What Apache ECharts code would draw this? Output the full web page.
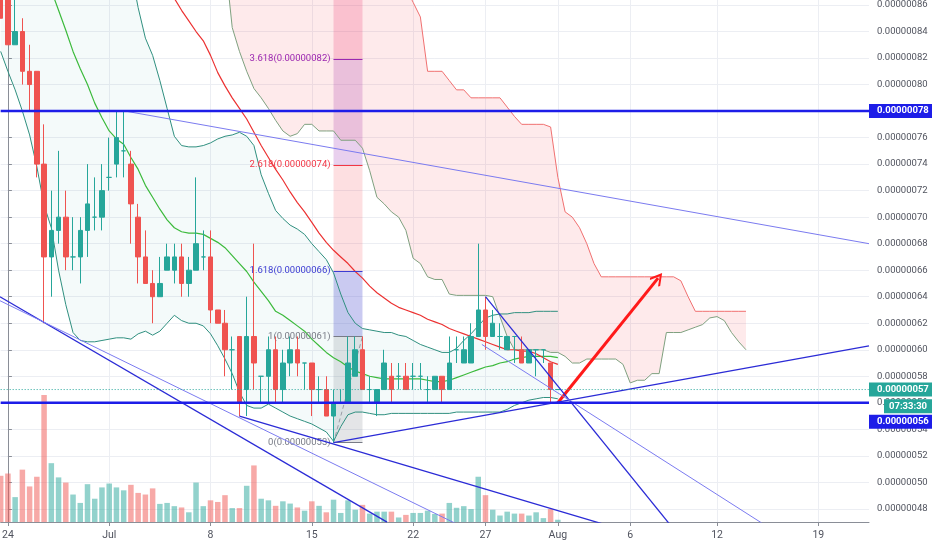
<!DOCTYPE html>
<html><head><meta charset="utf-8">
<script src="https://cdn.jsdelivr.net/npm/echarts@6/dist/echarts.min.js"></script>
<style>html,body{margin:0;padding:0;background:#fff}#c{width:932px;height:550px}</style>
</head><body><div id="c"></div>
<script>
// ---------- DATA (prices in satoshi = 1e-8 BTC, 12h candles) ----------
// slot index j: 0 = 2019-06-24 00:00, step 12h; arrays below start at j = -1
const openP  = [88,87,83,84,81,81,74,67,69,70,67,67,69,70,70,73,74,75,74,70,67,65,64,66,66,67,65,66,67,67,63,62,60,61,57,61,58,58,60,57,59,60,59,59,57,57,55,56,56,58,60,57,56,57,58,58,58,58,58,57,57,58,57,60,59,59,61,63,61,61,60,61,60,59,60,60,59,57];
const closeP = [85,83,84,81,80,74,67,69,70,67,67,69,71,70,72,73,76,75,71,67,65,64,65,67,67,65,66,68,67,63,62,60,60,56,61,59,58,60,57,59,60,59,59,57,57,55,56,56,59,60,57,57,57,59,57,58,57,58,58,57,58,57,59,60,60,61,63,61,62,61,61,61,59,60,60,60,57,57];
const lowP   = [85,83,83,80,78,73,62,64,68,66,66,65,67,69,69,72,73,73,68,65,65,62,64,66,65,64,64,66,66,62,62,58,57,55,55,57,56,56,56,56,58,58,57,55,56,55,53,56,56,58,57,56,55,57,56,57,57,57,57,56,57,56,57,59,59,59,61,60,61,60,60,59,59,59,58,59,56,57];
const highP  = [89,88,87,85,83,81,77,72,75,72,70,70,74,73,74,76,78,78,75,71,69,66,67,68,68,68,67,73,69,69,63,63,61,61,64,68,58,61,61,60,61,61,59,59,58,58,57,57,61,61,61,58,57,60,59,59,59,59,59,58,58,58,61,61,61,62,68,64,63,62,61,61,61,60,60,60,59,57];
const volume = [143,150,77,162,110,140,393,182,138,122,85,59,117,72,107,119,107,98,115,90,85,104,56,59,49,45,30,122,49,67,62,83,43,43,112,175,72,67,50,64,57,45,35,64,50,30,69,28,67,38,53,26,32,32,32,14,22,28,28,35,25,26,59,44,49,40,140,83,38,20,32,26,26,20,30,12,40,7];

// Bollinger bands and red moving average (start at j = -1)
const bbUpper = [104,103,102,101,100,99,98.5,98,97.5,97,96.5,96,95.5,95,94,93,91.5,90,88.6,
  85.8,83.5,82.2,80.3,78.2,76.1,75.4,75.3,75.3,75.4,75.6,75.9,76.1,76.2,76.4,76.1,75.4,73.2,71.8,70.5,
  69.9,69.4,69.1,68.7,68.0,67.4,66.8,65.8,64.2,62.8,62.0,61.6,61.5,61.4,61.3,61.3,61.1,61.0,60.7,60.4,
  60.2,60.0,59.8,59.8,60.1,60.7,61.2,61.8,62.4,62.6,62.7,62.7,62.8,62.8,62.8,62.9,62.9,62.9,62.9];
const bbMid = [96,95,94,92.8,91.5,90.1,88.6,87.1,85.6,84.1,82.5,81.2,80.0,78.6,77.5,76.5,75.9,75.5,74.5,73.6,72.4,71.5,70.6,69.8,69.2,68.9,68.8,68.8,68.7,68.4,68.1,67.7,67.1,66.5,65.9,65.1,64.4,63.7,62.9,62.6,62.2,61.8,61.4,60.8,60.3,59.8,59.4,59.1,58.7,58.4,58.2,58.0,57.9,57.8,57.8,57.8,57.8,57.8,57.8,57.7,57.6,57.6,57.7,57.9,58.1,58.3,58.5,58.7,58.8,59.0,59.1,59.3,59.4,59.5,59.5,59.5,59.5,59.4];
const bbLower = [82.5,81.0,79.6,78.0,76.2,73.8,70.9,69.2,
  66.0,63.4,61.3,60.7,60.6,60.6,60.7,60.8,60.9,60.9,60.8,61.2,61.4,61.1,61.4,62.0,62.6,62.2,62.0,62.0,61.8,61.2,60.3,59.3,58.2,
  56.8,55.8,55.6,55.6,55.9,55.6,55.3,55.0,54.8,54.6,54.4,54.1,53.8,53.1,54.2,55.1,55.3,55.3,55.2,55.1,55.1,
  55.2,55.2,55.2,55.2,55.2,55.2,55.2,55.2,55.2,55.3,55.3,55.3,55.3,55.3,55.3,55.3,55.5,55.8,56.0,56.2,56.3,56.4,56.4,56.3];
const maRed = [null,null,null,null,null,null,null,null,null,null,null,null,null,null,null,null,null,null,null,null,null,null,null,
  87.6,86.5,85.6,84.8,84.0,83.3,82.2,80.9,79.9,79.0,78.2,77.4,76.4,75.4,74.5,73.6,72.8,71.9,71.1,70.4,
  69.6,68.8,68.1,67.5,67.0,66.5,65.9,65.4,64.8,64.3,63.9,63.5,63.2,63.0,62.8,62.6,62.3,62.1,61.9,61.6,
  61.4,61.2,61.0,60.8,60.6,60.4,60.2,60.0,60.0,59.9,59.9,59.7,59.4,59.1,58.9];

// Ichimoku cloud spans (start at j = 30)
const spanStart = 30;
const spanLower = [89.5,84.3,82.5,81.0,79.7,79.0,78.2,77.3,76.5,76.1,76.3,77.0,77.0,76.5,76.5,76.5,75.8,75.8,75.8,75.2,73.5,71.5,71.0,70.4,70.0,69.0,66.9,66.5,65.5,65.3,65.3,64.2,64.1,64.1,64.1,64.1,64.1,64.0,62.5,61.0,60.0,60.0,60.0,60.0,60.0,59.8,59.8,59.5,59.0,59.0,59.3,59.3,59.3,59.3,59.3,58.9,57.5,57.7,57.7,58.2,58.2,61.3,61.3,61.3,61.5,61.7,61.9,62.4,62.5,62.2,61.3,60.6,60.0];
const spanUpper = [91,91,91,91,91,91,91,91,91,91,91,91,91,91,91,88.5,88.5,88.5,88.5,88.5,88.5,88.5,88.5,88.5,88.0,87.3,86.2,85.1,81.0,81.0,81.0,80.3,79.6,79.6,79.0,79.0,79.0,79.0,79.0,78.3,77.6,77.0,77.0,77.0,77.0,76.8,73.0,70.4,70.0,69.2,68.0,66.5,65.5,65.5,65.5,65.5,65.5,65.5,65.5,65.5,65.5,65.5,65.5,65.2,64.0,62.9,62.9,62.9,62.9,62.9,62.9,62.9,62.9];

// Drawn trend lines [[j, price], [j, price]]
const trendDark  = [[[-1.1,64.0],[52.4,47.0]], [[32,55],[90,45.6]], [[45,53],[119,60.3]], [[66,64],[93,45.8]]];
const trendLight = [[[16.2,78],[119,68.0]], [[-1.1,63.7],[66,45.8]], [[65.5,60.4],[106,46.3]]];
const levelLines = [78, 56];
const arrowFrom = [76, 56], arrowTo = [89.85, 65.4];

// Fibonacci extension tool
const fibLow = [45, 53], fibHigh = [49, 61];
const fibRatios = [0, 1, 1.618, 2.618, 3.618, 4.236];
const fibRatioText = ['0', '1', '1.618', '2.618', '3.618', '4.236'];

// axis ticks
const priceTicks = [48,50,52,54,56,58,60,62,64,66,68,70,72,74,76,78,80,82,84,86];
const tickDates  = ['2019-06-24T00','2019-07-01T00','2019-07-08T00','2019-07-15T00','2019-07-22T00','2019-07-27T00','2019-08-01T00','2019-08-06T00','2019-08-12T00','2019-08-19T00'];
const tickLabels = ['24','Jul','8','15','22','27','Aug','6','12','19'];
const countdownText = '07:33:30';

// ---------- BUILD ----------
const FONT = 'Roboto,"Liberation Sans",sans-serif';
const N = 121;
const yMin = 47.01, yMax = 86.377;
const categories = [];
const t0 = Date.UTC(2019, 5, 23, 12);
for (let k = 0; k < N; k++) categories.push(new Date(t0 + k * 43200000).toISOString().slice(0, 13));
const tickMap = {};
tickDates.forEach((d, i) => tickMap[d] = tickLabels[i]);
const isTick = (idx, val) => tickMap[val !== undefined ? val : categories[idx]] !== undefined;

function slots(values, firstJ) {
  const out = new Array(N).fill(null);
  values.forEach((v, i) => { out[firstJ + 1 + i] = v; });
  return out;
}
const UP = '#26a69a', DOWN = '#ef5350';
const candles = openP.map((o, i) => [o, closeP[i], lowP[i], highP[i]]);
const volData = volume.map((v, i) => ({ value: v, itemStyle: { color: closeP[i] < openP[i] ? 'rgba(239,83,80,0.5)' : 'rgba(38,166,154,0.5)' } }));
const bbBand = bbUpper.map((u, i) => +(u - bbLower[i]).toFixed(3));
const G = slots(spanLower, spanStart), R = slots(spanUpper, spanStart);
const cloudBand = R.map((r, i) => (r == null || G[i] == null) ? null : +(r - G[i]).toFixed(3));

const hidden = { opacity: 0, width: 0 };
const series = [];
function cline(data, color, width, z, extra) {
  series.push(Object.assign({ type: 'line', xAxisIndex: 0, yAxisIndex: 0, data, symbol: 'none', showSymbol: false, silent: true, z,
    lineStyle: { color, width } }, extra || {}));
}
// fills
cline(bbLower, '#000', 0, 1, { stack: 'bb', lineStyle: hidden });
cline(bbBand, '#000', 0, 1, { stack: 'bb', lineStyle: hidden, areaStyle: { color: 'rgba(38,166,154,0.07)' } });
cline(G, '#000', 0, 1, { stack: 'ichi', lineStyle: hidden });
cline(cloudBand, '#000', 0, 1, { stack: 'ichi', lineStyle: hidden, areaStyle: { color: 'rgba(242,54,69,0.15)' } });

// fib tool
const lv = r => fibLow[1] + r * (fibHigh[1] - fibLow[1]);
const bandColors = ['rgba(120,123,134,0.2)','rgba(80,80,210,0.3)','rgba(242,54,69,0.16)','rgba(156,39,176,0.22)','rgba(233,30,99,0.2)'];
const levelColors = ['#787b86','#787b86','#3c3cd2','#f23645','#9c27b0'];
const fibAreas = [], fibLines = [];
for (let i = 0; i < fibRatios.length - 1; i++) {
  fibAreas.push([{ coord: [fibLow[0], lv(fibRatios[i])], itemStyle: { color: bandColors[i] } },
                 { coord: [fibHigh[0], Math.min(lv(fibRatios[i + 1]), yMax)] }]);
  fibLines.push([{ coord: [fibLow[0], lv(fibRatios[i])], lineStyle: { color: levelColors[i], width: 1, type: 'solid' },
      label: { show: true, position: 'start', distance: 3, color: levelColors[i], fontSize: 9.5, fontFamily: FONT,
        formatter: fibRatioText[i] + '(' + (lv(fibRatios[i]) / 1e8).toFixed(8) + ')' } },
    { coord: [fibHigh[0], lv(fibRatios[i])] }]);
}
series.push({ type: 'line', xAxisIndex: 1, yAxisIndex: 0, data: [fibLow], symbol: 'none', lineStyle: hidden, silent: true, z: 2,
  markArea: { silent: true, data: fibAreas },
  markLine: { silent: true, symbol: ['none', 'none'], data: fibLines } });
series.push({ type: 'line', xAxisIndex: 1, yAxisIndex: 0, data: [fibLow, fibHigh], symbol: 'none', silent: true, z: 3,
  lineStyle: { color: '#9a9ca5', width: 1, type: [4, 3] } });

// indicator lines
cline(G, '#7fa07f', 1, 3);
cline(R, '#f07070', 1, 3);
cline(bbUpper, '#2f8f7f', 1, 3);
cline(bbLower, '#2f8f7f', 1, 3);
cline(bbMid, '#3cba3c', 1.2, 3);
cline(maRed, '#ec3232', 1.2, 3);

// volume
series.push({ type: 'bar', xAxisIndex: 0, yAxisIndex: 1, data: volData, barWidth: 5.5, silent: true, z: 2 });
// candles
series.push({ type: 'candlestick', xAxisIndex: 0, yAxisIndex: 0, data: candles, barWidth: 5, silent: true, z: 5,
  itemStyle: { color: UP, color0: DOWN, borderColor: UP, borderColor0: DOWN, borderColorDoji: UP, borderWidth: 1 } });

// drawings
const vline = (data, color, width, type, z) => series.push({ type: 'line', xAxisIndex: 1, yAxisIndex: 0, data, symbol: 'none', silent: true, z,
  lineStyle: { color, width, type: type || 'solid' } });
trendDark.forEach(s => vline(s, '#2b2bd6', 1.3, 'solid', 6));
trendLight.forEach(s => vline(s, '#7b7bf0', 1, 'solid', 6));
levelLines.forEach(v => vline([[-1, v], [119, v]], '#1d1de8', 2.5, 'solid', 6));
const lastClose = closeP[closeP.length - 1];
vline([[-1, lastClose], [119, lastClose]], '#26a69a', 1, [1, 2], 6);
series.push({ type: 'line', xAxisIndex: 1, yAxisIndex: 0, data: [arrowFrom], symbol: 'none', lineStyle: hidden, silent: true, z: 7,
  markLine: { silent: true, symbol: ['none', 'path://M0,0 L10,13 L8,15 L0,4.5 L-8,15 L-10,13 Z'], symbolSize: [13, 13],
    lineStyle: { color: '#ff1a1a', width: 3, type: 'solid' }, label: { show: false },
    data: [[{ coord: arrowFrom }, { coord: arrowTo }]] } });

const chart = echarts.init(document.getElementById('c'));
chart.setOption({
  animation: false,
  backgroundColor: '#ffffff',
  grid: { left: 0.67, right: 63, top: 0, bottom: 28, containLabel: false, outerBoundsMode: 'none' },
  xAxis: [
    { type: 'category', data: categories, boundaryGap: false, gridIndex: 0,
      axisLine: { show: true, onZero: false, lineStyle: { color: '#8a8e97' } },
      axisTick: { show: true, interval: isTick, length: 4, lineStyle: { color: '#8a8e97' } },
      axisLabel: { interval: isTick, formatter: v => tickMap[v] || '', color: '#50535e', fontSize: 10.5, fontFamily: FONT, margin: 8 },
      splitLine: { show: true, interval: isTick, lineStyle: { color: '#eceef3', width: 1 } } },
    { type: 'value', min: -1, max: 119, show: false, gridIndex: 0, splitLine: { show: false } }
  ],
  yAxis: [
    { type: 'value', position: 'right', min: yMin, max: yMax, gridIndex: 0,
      axisLine: { show: true, lineStyle: { color: '#8a8e97' } },
      axisTick: { show: true, length: 4, customValues: priceTicks, lineStyle: { color: '#8a8e97' } },
      axisLabel: { customValues: priceTicks, formatter: v => (v / 1e8).toFixed(8), color: '#50535e', fontSize: 9.5, fontFamily: FONT, margin: 8 },
      splitLine: { show: true, lineStyle: { color: '#eceef3', width: 1 } } },
    { type: 'value', min: 0, max: 1615, show: false, gridIndex: 0, splitLine: { show: false } }
  ],
  series
});

// price labels on the right axis
const py = v => chart.convertToPixel({ yAxisIndex: 0 }, v);
const boxes = [
  { v: levelLines[0], dy: 0, bg: '#1d1de8', text: (levelLines[0] / 1e8).toFixed(8), x: 869 },
  { v: lastClose, dy: 0, bg: '#26a69a', text: (lastClose / 1e8).toFixed(8), x: 869 },
  { v: levelLines[1], dy: 3.5, bg: '#26a69a', text: countdownText, x: 884 },
  { v: levelLines[1], dy: 19, bg: '#1d1de8', text: (levelLines[1] / 1e8).toFixed(8), x: 869 }
];
const graphic = [];
boxes.forEach(b => {
  const y = py(b.v) + b.dy;
  graphic.push({ type: 'rect', z: 100, shape: { x: b.x, y: y - 7, width: 932 - b.x, height: 14 }, style: { fill: b.bg } });
  graphic.push({ type: 'text', z: 101, x: b.x + (b.x > 870 ? 5 : 8), y: y, style: { text: b.text, fill: '#ffffff', fontSize: 9.5, fontWeight: 'bold', fontFamily: FONT, verticalAlign: 'middle', align: 'left' } });
});
chart.setOption({ graphic });
</script>
</body></html>
